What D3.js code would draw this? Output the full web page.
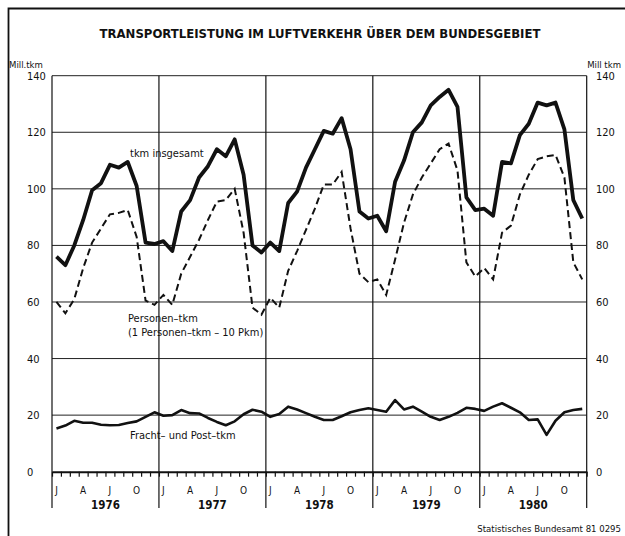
<!DOCTYPE html>
<html>
<head>
<meta charset="utf-8">
<script src="https://cdn.jsdelivr.net/npm/d3@7"></script>
<style>
  body { margin: 0; background: #fff; }
  text { font-family: "Liberation Sans Narrow", "DejaVu Sans Condensed", "Arial Narrow", sans-serif; fill: #111; }
</style>
</head>
<body>
<div class="mainWrapper"></div>
<script>
// data (Mill. tkm, monthly Jan 1976 - Dec 1980)
var years = ["1976", "1977", "1978", "1979", "1980"];
var monthLabels = ["J", "", "", "A", "", "", "J", "", "", "O", "", ""];
var yTicks = [0, 20, 40, 60, 80, 100, 120, 140];

var tkmGesamt = [
  76, 73, 80, 89, 99.5, 102, 108.5, 107.5, 109.5, 101, 81, 80.5,
  81.5, 78, 92, 96, 104, 108, 114, 111.5, 117.5, 105, 80, 77.5,
  81, 78, 95, 99, 107.5, 114, 120.5, 119.5, 125, 114, 92, 89.5,
  90.5, 85, 102.5, 110, 120, 123.5, 129.5, 132.5, 135, 129, 97, 92.5,
  93, 90.5, 109.5, 109, 119, 123, 130.5, 129.5, 130.5, 121, 96, 89.5
];
var personenTkm = [
  60, 56, 61, 72, 81, 86, 91, 91.5, 92.5, 83, 60.5, 59,
  62.5, 59, 70, 76, 82, 89, 95.5, 96, 100, 84.5, 58, 55.5,
  61.5, 58, 71, 78, 85.5, 93, 101.5, 101.5, 106, 86, 70, 67,
  68, 62.5, 75, 88, 98, 104, 109, 114, 116, 106.5, 74, 69,
  72, 68, 84.5, 87, 98, 105, 110.5, 111.5, 112, 104, 74, 68
];
var frachtPost = [
  15.3, 16.3, 18, 17.3, 17.3, 16.6, 16.4, 16.5, 17.2, 17.8, 19.4, 21,
  19.8, 20, 21.8, 20.7, 20.6, 19, 17.6, 16.4, 17.8, 20.3, 21.9, 21.2,
  19.4, 20.4, 23, 22, 20.7, 19.4, 18.3, 18.3, 19.6, 21, 21.8, 22.4,
  21.8, 21.2, 25.3, 22, 23, 21.2, 19.4, 18.3, 19.4, 20.8, 22.6, 22.2,
  21.5, 23, 24.2, 22.6, 21, 18.3, 18.5, 13, 18, 21, 21.8, 22.2
];

function drawChart() {
  var W = 625, H = 536;
  var plotLeft = 52, plotRight = 586.7, plotTop = 75.7, plotBottom = 471.7;

  var svg = d3.select(".mainWrapper")
    .append("svg")
      .attr("width", W)
      .attr("height", H);

  // frame (top and left only, like the scan)
  svg.append("path")
    .attr("d", "M" + W + ",8.5H8.5V" + H)
    .attr("fill", "none")
    .attr("stroke", "#111")
    .attr("stroke-width", 1.8);

  var nMonths = years.length * 12;
  var x = d3.scaleLinear().domain([0, nMonths]).range([plotLeft, plotRight]);
  var y = d3.scaleLinear().domain([0, 140]).range([plotBottom, plotTop]);

  // title
  svg.append("text")
    .attr("x", 320)
    .attr("y", 38)
    .attr("text-anchor", "middle")
    .style("font-size", "13px")
    .style("font-weight", "bold")
    .text("TRANSPORTLEISTUNG IM LUFTVERKEHR ÜBER DEM BUNDESGEBIET");

  // unit labels
  svg.append("text").attr("x", 9).attr("y", 68).style("font-size", "9.5px").text("Mill.tkm");
  svg.append("text").attr("x", 621).attr("y", 68).attr("text-anchor", "end").style("font-size", "9.5px").text("Mill tkm");

  // horizontal grid
  svg.append("g")
    .selectAll("line")
    .data(yTicks.filter(function(d) { return d > 0; }))
    .enter()
    .append("line")
      .attr("x1", plotLeft).attr("x2", plotRight)
      .attr("y1", function(d) { return y(d); })
      .attr("y2", function(d) { return y(d); })
      .attr("stroke", "#222")
      .attr("stroke-width", 1);

  // year separators, incl. left and right border of plot
  svg.append("g")
    .selectAll("line")
    .data(d3.range(years.length + 1))
    .enter()
    .append("line")
      .attr("x1", function(d) { return x(d * 12); })
      .attr("x2", function(d) { return x(d * 12); })
      .attr("y1", plotTop)
      .attr("y2", 508)
      .attr("stroke", "#111")
      .attr("stroke-width", 1.2);

  // y tick labels, both sides
  var yl = svg.append("g");
  yl.selectAll(".yl")
    .data(yTicks)
    .enter()
    .append("text")
      .attr("class", "yl")
      .attr("x", 27)
      .attr("y", function(d) { return y(d) + 4; })
      .style("font-size", "11px")
      .text(function(d) { return d; });
  yl.selectAll(".yr")
    .data(yTicks)
    .enter()
    .append("text")
      .attr("class", "yr")
      .attr("x", 596)
      .attr("y", function(d) { return y(d) + 4; })
      .style("font-size", "11px")
      .text(function(d) { return d; });

  // x axis: month ticks pointing down
  var xAxis = d3.axisBottom(x)
    .tickValues(d3.range(nMonths + 1))
    .tickSize(5)
    .tickSizeOuter(0)
    .tickFormat("");
  var gx = svg.append("g")
    .attr("transform", "translate(0," + plotBottom + ")")
    .call(xAxis);
  gx.select(".domain").attr("stroke", "#111").attr("stroke-width", 2);
  gx.selectAll(".tick line").attr("stroke", "#111").attr("stroke-width", 1.2);

  // month letters
  svg.append("g")
    .selectAll("text")
    .data(d3.range(nMonths).filter(function(i) { return monthLabels[i % 12] != ""; }))
    .enter()
    .append("text")
      .attr("x", function(i) { return x(i + 0.5); })
      .attr("y", 494)
      .attr("text-anchor", "middle")
      .style("font-size", "10px")
      .text(function(i) { return monthLabels[i % 12]; });

  // year labels
  svg.append("g")
    .selectAll("text")
    .data(years)
    .enter()
    .append("text")
      .attr("x", function(d, i) { return x(i * 12 + 6); })
      .attr("y", 509)
      .attr("text-anchor", "middle")
      .style("font-size", "11.5px")
      .style("font-weight", "bold")
      .text(function(d) { return d; });

  // lines
  var line = d3.line()
    .x(function(d, i) { return x(i + 0.5); })
    .y(function(d) { return y(d); });

  svg.append("path")
    .datum(personenTkm)
    .attr("fill", "none")
    .attr("stroke", "#111")
    .attr("stroke-width", 2)
    .attr("stroke-dasharray", "7,4")
    .attr("d", line);

  svg.append("path")
    .datum(frachtPost)
    .attr("fill", "none")
    .attr("stroke", "#111")
    .attr("stroke-width", 2.6)
    .attr("stroke-linejoin", "round")
    .attr("d", line);

  svg.append("path")
    .datum(tkmGesamt)
    .attr("fill", "none")
    .attr("stroke", "#111")
    .attr("stroke-width", 3.8)
    .attr("stroke-linejoin", "round")
    .attr("d", line);

  // series labels
  svg.append("text").attr("x", 130).attr("y", 157).style("font-size", "11px").text("tkm insgesamt");
  svg.append("text").attr("x", 128).attr("y", 322).style("font-size", "11px").text("Personen–tkm");
  svg.append("text").attr("x", 128).attr("y", 336).style("font-size", "11px").text("(1 Personen–tkm – 10 Pkm)");
  svg.append("text").attr("x", 130).attr("y", 439).style("font-size", "11px").text("Fracht– und Post–tkm");

  // source
  svg.append("text")
    .attr("x", 621)
    .attr("y", 532)
    .attr("text-anchor", "end")
    .style("font-size", "9.5px")
    .text("Statistisches Bundesamt 81 0295");
}

drawChart();
</script>
</body>
</html>
